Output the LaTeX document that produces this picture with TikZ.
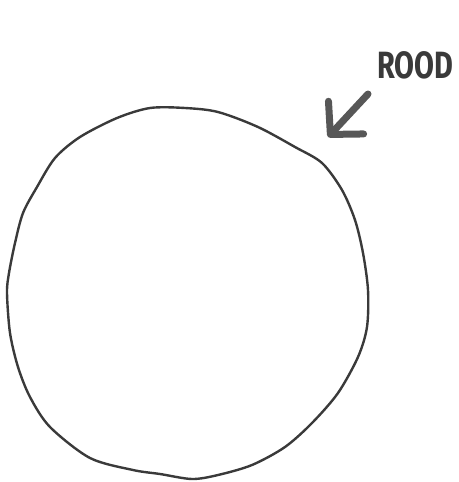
\documentclass[tikz,border=0pt]{standalone}
\usepackage{fontspec}
\setmainfont{Fira Sans}
\usetikzlibrary{arrows.meta, positioning}

\definecolor{pencil}{HTML}{3A3A3A}

\begin{document}
\begin{tikzpicture}[x=1pt, y=-1pt, line cap=round, line join=round]
    \useasboundingbox (0,0) rectangle (458,482);
    % hand-drawn ring
    \draw[pencil, line width=2.4pt] plot[smooth cycle] coordinates {
        (150,108) (185,108) (218,112) (258,127) (295,147) (322,163)
        (342,190) (355,220) (363,253) (368,290) (367,327) (358,357)
        (338,393) (312,423) (285,447) (252,465) (218,475) (192,479)
        (160,474) (133,470) (90,458) (50,427) (30,397) (18,367)
        (10,333) (7,293) (9,273) (15,243) (23,213) (37,187)
        (55,158) (80,137) (117,118)};
    % label with pointer
    \node[pencil, anchor=south west, inner sep=0pt, xscale=0.76, transform shape,
          font=\fontsize{38}{38}\selectfont\bfseries] (label) at (377,79) {ROOD};
    \coordinate (tail) at (368,94);
    \coordinate (tip) at (328,137);
    \draw[pencil!85, line width=7pt, -{Straight Barb[length=23pt, width=48pt, round]}] (tail) -- (tip);
\end{tikzpicture}
\end{document}
